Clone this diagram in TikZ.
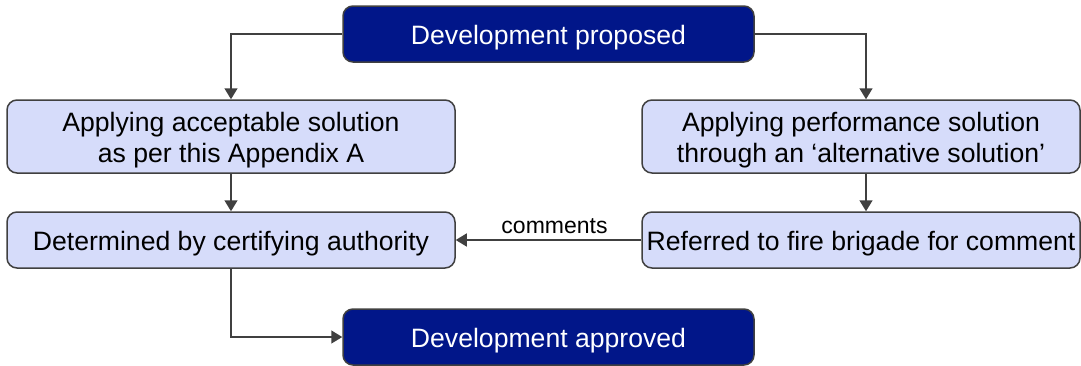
\documentclass[tikz,border=0pt]{standalone}
\usepackage{fontspec}
\setmainfont{Liberation Sans}
\usetikzlibrary{arrows.meta}
\definecolor{stepdark}{RGB}{1,22,137}
\definecolor{steplight}{RGB}{214,220,250}
\definecolor{stepline}{RGB}{64,64,64}

\tikzset{
  darkbox/.style={draw=stepline,fill=stepdark,text=white,rounded corners=5pt,
    line width=0.75pt,minimum width=205.5pt,minimum height=28pt,align=center,
    text height=12.8pt,font=\fontsize{13.3}{15.5}\selectfont},
  lightbox/.style={draw=stepline,fill=steplight,text=black,rounded corners=5pt,
    line width=0.75pt,minimum height=28pt,align=center,inner sep=1.5pt,
    text height=12.8pt,font=\fontsize{13.3}{15.5}\selectfont},
  twoline/.style={lightbox,minimum height=36.5pt,text height=28.3pt},
  conn/.style={draw=stepline,line width=0.75pt,-{Triangle[length=5.5pt,width=6.5pt]}}
}

\begin{document}
\begin{tikzpicture}[x=0.5pt,y=-0.5pt]
\useasboundingbox (0,0) rectangle (1081,365);

\node [darkbox] (proposed) at (548.5,34) {Development proposed};
\node [twoline,minimum width=224pt] (accept) at (231,136.5)
{Applying acceptable solution\\as per this Appendix A};
\node [twoline,minimum width=219pt] (perform) at (861,136.5)
{Applying performance solution\\through an ‘alternative solution’};
\node [lightbox,minimum width=224pt] (certify) at (231,240) {Determined by certifying authority};
\node [lightbox,minimum width=219pt] (brigade) at (861,240) {Referred to fire brigade for comment};
\node [darkbox] (approved) at (548.5,337) {Development approved};

\draw [conn] (proposed.west) -| (accept.north);
\draw [conn] (proposed.east) -| ([xshift=2.5pt]perform.north);
\draw [conn] (accept) -- (certify);
\draw [conn] ([xshift=2.5pt]perform.south) -- ([xshift=2.5pt]brigade.north);
\draw [conn] (brigade) -- node [above,xshift=3pt,yshift=-0.5pt,font=\fontsize{11.5}{13}\selectfont] {comments} (certify);
\draw [conn] (certify.south) |- (approved.west);
\end{tikzpicture}
\end{document}
